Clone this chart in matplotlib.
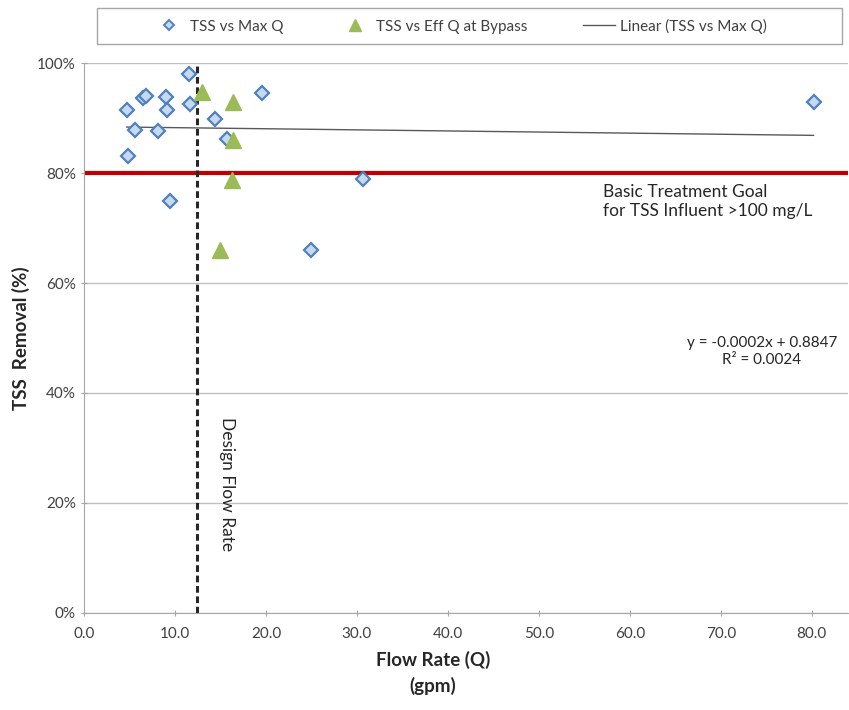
"""TSS removal vs flow rate scatter with design flow and treatment goal."""

import matplotlib
matplotlib.use("Agg")
import matplotlib.pyplot as plt
from matplotlib.lines import Line2D
from matplotlib.patches import Rectangle
from matplotlib.ticker import PercentFormatter, MultipleLocator
import numpy as np

# Section: data.
max_q = [11.5, 19.6, 4.7, 6.45, 6.8, 9.0, 9.1, 11.6, 14.4, 5.65, 8.1, 15.7, 4.8, 30.7, 9.5, 24.9, 80.2]
max_q_tss = [0.980, 0.945, 0.915, 0.936, 0.940, 0.938, 0.915, 0.925, 0.898, 0.878, 0.876, 0.862,
             0.831, 0.789, 0.750, 0.660, 0.930]
eff_q = [13.0, 16.4, 16.4, 16.3, 15.0]
eff_q_tss = [0.947, 0.930, 0.860, 0.788, 0.660]

trend_slope = -0.0002
trend_intercept = 0.8847
trend_r2 = 0.0024
design_flow = 12.4
treatment_goal = 0.80

plt.rcParams["font.family"] = ["Lato", "DejaVu Sans"]

fig = plt.figure(figsize=(8.49, 7.10), dpi=100)
ax = fig.add_axes([0.099, 0.137, 0.900, 0.774])

# Section: grid, spines and ticks in an Excel-like style.
ax.set_xlim(0, 84)
ax.set_ylim(0, 1.0)
ax.yaxis.set_major_locator(MultipleLocator(0.2))
ax.yaxis.set_major_formatter(PercentFormatter(1.0, decimals=0))
ax.xaxis.set_major_locator(MultipleLocator(10))
ax.xaxis.set_major_formatter(lambda v, p: f"{v:.1f}")
ax.grid(axis="y", color="#BFBFBF", lw=1)
ax.set_axisbelow(True)
for side in ["top", "right"]:
    ax.spines[side].set_visible(False)
for side in ["left", "bottom"]:
    ax.spines[side].set_color("#A6A6A6")
ax.tick_params(axis="both", colors="#A6A6A6", labelcolor="#404040", labelsize=11, length=5, direction="inout")
ax.tick_params(axis="x", pad=8)

# Section: reference lines.
ax.axhline(treatment_goal, color="#C00000", lw=3, zorder=2)
ax.axvline(design_flow, color="#262626", lw=2.2, ls=(0, (2.2, 1.2)), zorder=2)

# Section: series and trend line.
ax.plot(max_q, max_q_tss, ls="none", marker="D", ms=7.5, mfc="#C6D9F1", mec="#4F81BD", mew=1.6, zorder=4)
ax.plot(eff_q, eff_q_tss, ls="none", marker="^", ms=11, mfc="#9BBB59", mec="#9BBB59", zorder=4)
trend_x = np.array([min(max_q), max(max_q)])
ax.plot(trend_x, trend_slope * trend_x + trend_intercept, color="#595959", lw=1, zorder=3)

# Section: annotations.
ax.text(57.1, 0.781, "Basic Treatment Goal\nfor TSS Influent >100 mg/L", fontsize=12.5, va="top", ha="left",
        color="#262626", linespacing=1.25)
ax.text(74.5, 0.475, f"y = {trend_slope}x + {trend_intercept}\nR² = {trend_r2}", fontsize=11,
        ha="center", va="center", color="#262626", linespacing=1.25)
ax.text(15.7, 0.235, "Design Flow Rate", rotation=270, fontsize=12.5, ha="center", va="center", color="#262626")

ax.set_ylabel("TSS  Removal (%)", fontsize=13.5, fontweight="bold", color="#262626")
ax.yaxis.set_label_coords(-0.071, 0.5)
ax.set_xlabel("Flow Rate (Q)\n(gpm)", fontsize=13.5, fontweight="bold", color="#262626", linespacing=1.5)
ax.xaxis.set_label_coords(0.457, -0.07)

# Section: legend in a framed box above the plot.
fig.patches.append(Rectangle((97 / 849, 1 - 44 / 710), 745 / 849, 36 / 710, transform=fig.transFigure,
                             fill=False, edgecolor="#A6A6A6", lw=1))
handles = [
    Line2D([], [], ls="none", marker="D", ms=5.5, mfc="#C6D9F1", mec="#4F81BD", mew=1.4),
    Line2D([], [], ls="none", marker="^", ms=8, mfc="#9BBB59", mec="#9BBB59"),
    Line2D([], [], color="#595959", lw=1),
]
labels = ["TSS vs Max Q", "TSS vs Eff Q at Bypass", "Linear (TSS vs Max Q)"]
fig.legend(handles, labels, loc="center", bbox_to_anchor=(460 / 849, 1 - 26 / 710), ncol=3, frameon=False,
           fontsize=11, columnspacing=3.6, handlelength=2.1, handletextpad=0.35, labelcolor="#404040")

fig.savefig("out.png", dpi=100)
